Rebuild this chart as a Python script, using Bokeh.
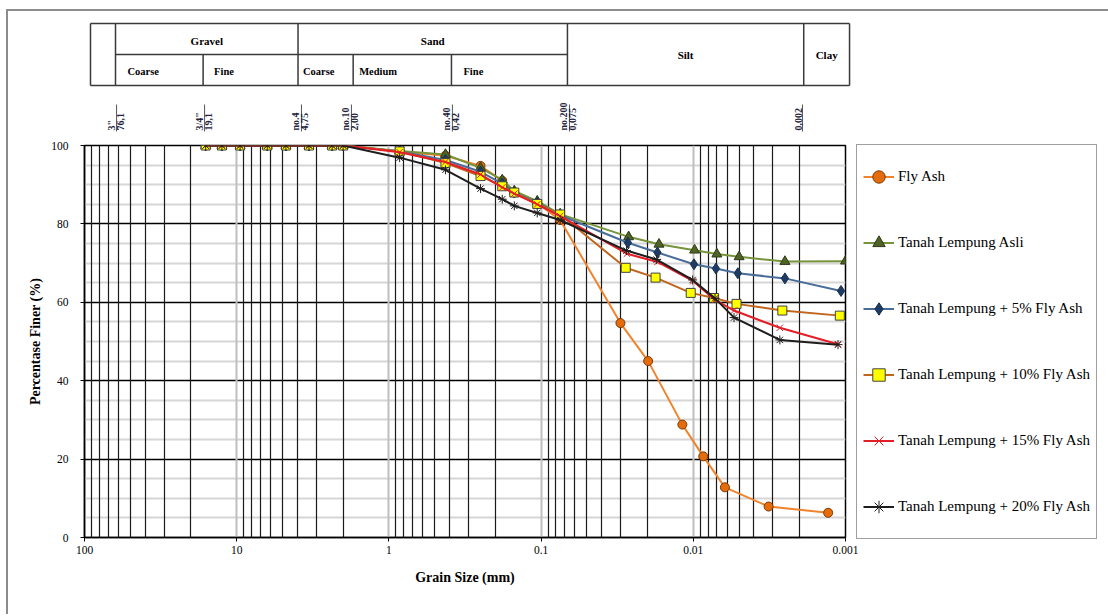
from math import pi

from bokeh.plotting import figure
from bokeh.models import (Range1d, FixedTicker, Legend, LegendItem,
                          CustomJSTickFormatter)
from bokeh.layouts import column
from bokeh.core.properties import value
from bokeh.embed import file_html
from bokeh.resources import INLINE

SERIF = "Liberation Serif"

# ---------------- data ----------------
# sieve sizes (mm) common to every sample
sieve_mm = [16, 12.5, 9.5, 6.3, 4.75, 3.35, 2.36, 2.0,
            0.85, 0.425, 0.25, 0.18, 0.15, 0.106, 0.075]

series_names = ["Fly Ash", "Tanah Lempung Asli", "Tanah Lempung + 5% Fly Ash",
                "Tanah Lempung + 10% Fly Ash", "Tanah Lempung + 15% Fly Ash",
                "Tanah Lempung + 20% Fly Ash"]

# hydrometer grain sizes (mm)
fly_ash_hydro_mm = [0.0301, 0.0198, 0.0118, 0.0086, 0.0062, 0.0032, 0.0013]
asli_hydro_mm = [0.0266, 0.0168, 0.0098, 0.0070, 0.0050, 0.0025, 0.0010]
fa5_hydro_mm = [0.0269, 0.0172, 0.0099, 0.0071, 0.0051, 0.0025, 0.00107]
fa10_hydro_mm = [0.0278, 0.0177, 0.0104, 0.0073, 0.0052, 0.0026, 0.00109]
fa15_hydro_mm = [0.0273, 0.0172, 0.0100, 0.0072, 0.0054, 0.0027, 0.00112]
fa20_hydro_mm = [0.0275, 0.0174, 0.0101, 0.0072, 0.0054, 0.0027, 0.00112]

# percent finer: sieve part + hydrometer part
fly_ash_finer = [100, 100, 100, 100, 100, 100, 100, 100,
                 98.5, 97.4, 94.8, 91.0, 88.0, 85.3, 81.0,
                 54.7, 45.0, 28.8, 20.7, 12.8, 7.9, 6.3]
asli_finer = [100, 100, 100, 100, 100, 100, 100, 100,
              98.6, 97.7, 94.3, 91.2, 88.4, 85.8, 82.5,
              76.7, 74.8, 73.3, 72.3, 71.6, 70.4, 70.5]
fa5_finer = [100, 100, 100, 100, 100, 100, 100, 100,
             98.5, 96.3, 93.3, 90.3, 88.0, 85.4, 82.2,
             75.2, 72.7, 69.7, 68.6, 67.4, 66.1, 62.9]
fa10_finer = [100, 100, 100, 100, 100, 100, 100, 100,
              98.5, 95.5, 92.2, 89.6, 88.0, 85.1, 82.4,
              68.8, 66.3, 62.4, 61.1, 59.6, 57.9, 56.6]
fa15_finer = [100, 100, 100, 100, 100, 100, 100, 100,
              98.3, 95.8, 92.6, 89.3, 87.7, 85.0, 82.0,
              72.4, 70.3, 65.4, 60.6, 57.9, 53.5, 49.3]
fa20_finer = [100, 100, 100, 100, 100, 100, 100, 100,
              96.9, 93.8, 89.0, 86.3, 84.6, 82.8, 81.0,
              73.2, 70.9, 65.7, 61.0, 56.1, 50.4, 49.2]

hydro_lists = [fly_ash_hydro_mm, asli_hydro_mm, fa5_hydro_mm,
               fa10_hydro_mm, fa15_hydro_mm, fa20_hydro_mm]
finer_lists = [fly_ash_finer, asli_finer, fa5_finer, fa10_finer, fa15_finer, fa20_finer]

# axis ticks
x_major = [100, 10, 1, 0.1, 0.01, 0.001]
x_tick_labels = ["100", "10", "1", "0.1", "0.01", "0.001"]
y_major = [0, 20, 40, 60, 80, 100]

# classification table (boundaries in mm)
table_edges_mm = [100, 68.5, 18.2, 4.33, 1.88, 0.425, 0.0735, 0.00206, 0.00103]
group_labels = ["Gravel", "Sand"]
sub_labels = ["Coarse", "Fine", "Coarse", "Medium", "Fine"]
single_labels = ["Silt", "Clay"]

# sieve designations
sieve_bar_mm = [67.4, 17.8, 4.11, 1.93, 0.419, 0.0713, 0.0021]
sieve_name = ['3"', '3/4"', "no.4", "no.10", "no.40", "no.200", "0,002"]
sieve_open = ["76,1", "19,1", "4,75", "2,00", "0,42", "0,075", ""]

# ---------------- styles ----------------
styles = [
    dict(line="#F0842C", marker="circle", size=9, fill="#E46C0A", outline="#7A3A08"),
    dict(line="#77933C", marker="triangle", size=10, fill="#4F6228", outline="#2E3A16"),
    dict(line="#4A6C98", marker="diamond", size=11, fill="#1F3B63", outline="#17324F"),
    dict(line="#C0651E", marker="square", size=9, fill="#FFFF00", outline="#404040"),
    dict(line="#E41E26", marker="x", size=9, fill="#E41E26", outline="#E41E26"),
    dict(line="#1E1E1E", marker="asterisk", size=9, fill="#1E1E1E", outline="#1E1E1E"),
]

# ---------------- main chart ----------------
p = figure(frame_width=761, frame_height=392, x_axis_type="log",
           x_range=Range1d(100, 0.001), y_range=Range1d(0, 100),
           output_backend="svg", toolbar_location=None,
           min_border_left=76, min_border_right=258,
           min_border_top=10, min_border_bottom=77,
           background_fill_color="white", border_fill_color="white")
p.outline_line_color = "#000000"
p.outline_line_width = 1.5

x_minor = [m * 10.0 ** k for k in range(-3, 2) for m in range(2, 10)]
p.xaxis.ticker = FixedTicker(ticks=x_major, minor_ticks=x_minor)
p.xaxis.formatter = CustomJSTickFormatter(
    args=dict(xt=x_major, xl=x_tick_labels),
    code="""
    for (let i = 0; i < xt.length; i++) {
      if (Math.abs(Math.log10(xt[i]) - Math.log10(tick)) < 1e-6) return xl[i];
    }
    return '';
    """)
y_minor = [v for v in range(5, 100, 5) if v % 20 != 0]
p.yaxis.ticker = FixedTicker(ticks=y_major, minor_ticks=y_minor)

for ax in (p.xaxis, p.yaxis):
    ax.axis_line_color = "#000000"
    ax.axis_line_width = 1.5
    ax.major_tick_line_color = "#000000"
    ax.major_tick_out = 4
    ax.major_tick_in = 0
    ax.minor_tick_out = 0
    ax.minor_tick_in = 0
    ax.major_label_text_font = SERIF
    ax.major_label_text_font_size = "11.5px"
    ax.major_label_text_color = "#000000"
    ax.axis_label_text_font = SERIF
    ax.axis_label_text_font_style = "bold"
    ax.axis_label_text_font_size = "14px"
    ax.axis_label_text_color = "#000000"

p.xaxis.axis_label = "Grain Size (mm)"
p.xaxis.major_label_standoff = 4
p.xaxis.axis_label_standoff = 13
p.yaxis.axis_label = "Percentase Finer (%)"
p.yaxis.major_label_standoff = 12
p.yaxis.axis_label_standoff = 5

p.xgrid.grid_line_color = "#bfbfbf"
p.xgrid.grid_line_width = 2
p.xgrid.minor_grid_line_color = "#1a1a1a"
p.xgrid.minor_grid_line_width = 1.2
p.ygrid.grid_line_color = "#000000"
p.ygrid.grid_line_width = 1.3
p.ygrid.minor_grid_line_color = "#d6d6d6"
p.ygrid.minor_grid_line_width = 2
p.center = list(reversed(p.center))

items = []
for name, hyd, fin, st in zip(series_names, hydro_lists, finer_lists, styles):
    xs = sieve_mm + hyd
    lr = p.line(xs, fin, line_color=st["line"], line_width=2)
    sr = p.scatter(xs, fin, marker=st["marker"], size=st["size"],
                   fill_color=st["fill"], line_color=st["outline"], line_width=1)
    items.append(LegendItem(label=name, renderers=[lr, sr]))

legend = Legend(items=items, location=(11, -2), margin=0, padding=6,
                glyph_width=31, glyph_height=51, label_height=51, spacing=15,
                label_standoff=4, border_line_color="#404040", border_line_width=1.5,
                label_text_font=SERIF, label_text_font_size="15px",
                label_text_color="#000000", background_fill_color="white")
p.add_layout(legend, "right")

# ---------------- header (classification table + sieve marks) ----------------
h = figure(frame_width=777, frame_height=124, x_axis_type="log",
           x_range=Range1d(109.49, 0.0008596), y_range=Range1d(135, 11),
           x_axis_location=None, y_axis_location=None,
           min_border_left=70, min_border_right=248,
           min_border_top=0, min_border_bottom=0,
           output_backend="svg", toolbar_location=None,
           background_fill_color="white", border_fill_color="white")
h.outline_line_color = None
h.grid.visible = False

tl = "#3a3a3a"
e = table_edges_mm
full = [e[0], e[1], e[3], e[6], e[7], e[8]]
lower = [e[2], e[4], e[5]]
h.segment(x0=full, y0=[23] * len(full), x1=full, y1=[85] * len(full),
          line_color=tl, line_width=1.5)
h.segment(x0=lower, y0=[54] * len(lower), x1=lower, y1=[85] * len(lower),
          line_color=tl, line_width=1.5)
h.segment(x0=[e[0], e[0], e[1]], y0=[23, 85, 54], x1=[e[8], e[8], e[6]], y1=[23, 85, 54],
          line_color=tl, line_width=1.5)

def gmid(a, b):
    return (a * b) ** 0.5

h.text(x=[gmid(e[1], e[3]), gmid(e[3], e[6])], y=[40, 40], text=group_labels,
       text_font=value(SERIF), text_font_style="bold", text_font_size="11px",
       text_align="center", text_baseline="middle", text_color="#000000")
h.text(x=[gmid(e[6], e[7]), gmid(e[7], e[8])], y=[54, 54], text=single_labels,
       text_font=value(SERIF), text_font_style="bold", text_font_size="11px",
       text_align="center", text_baseline="middle", text_color="#000000")
sub_left = [e[1], e[2], e[3], e[4], e[5]]
sub_pad = [12, 11, 5, 6, 12]
for xl, lab, pad in zip(sub_left, sub_labels, sub_pad):
    h.text(x=[xl], y=[71], text=[lab], x_offset=pad,
           text_font=value(SERIF), text_font_style="bold", text_font_size="10.5px",
           text_align="left", text_baseline="middle", text_color="#000000")

h.segment(x0=sieve_bar_mm, y0=[104] * len(sieve_bar_mm), x1=sieve_bar_mm,
          y1=[131] * len(sieve_bar_mm), line_color="#555555", line_width=1)
h.text(x=sieve_bar_mm, y=[130] * len(sieve_bar_mm), text=sieve_name, angle=pi / 2,
       text_font=value(SERIF), text_font_style="bold", text_font_size="10px",
       text_align="left", text_baseline="bottom", text_color="#22223a")
h.text(x=sieve_bar_mm, y=[130] * len(sieve_bar_mm), text=sieve_open, angle=pi / 2,
       text_font=value(SERIF), text_font_style="bold", text_font_size="10px",
       text_align="left", text_baseline="top", text_color="#22223a")

layout = column(h, p, spacing=0, margin=(9, 0, 0, 6),
                styles={"border-left": "2px solid #8c8c8c",
                        "border-top": "2px solid #8c8c8c"})
open("out.html", "w").write(file_html(layout, INLINE))
